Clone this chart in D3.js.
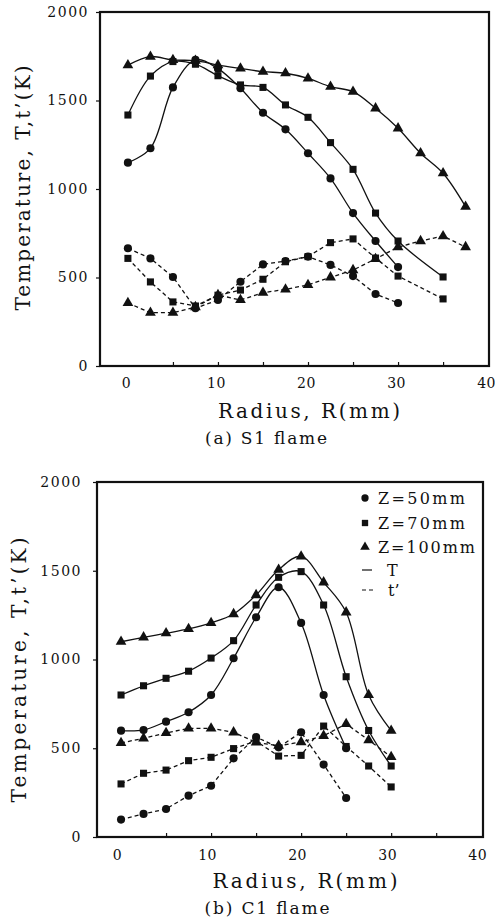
<!DOCTYPE html>
<html>
<head>
<meta charset="utf-8">
<script src="https://cdn.jsdelivr.net/npm/d3@7"></script>
<style>
  body { margin: 0; background: #fff; }
  svg { display: block; }
</style>
</head>
<body>
<script>
var width = 495;
var height = 920;

// tick values shared by both panels
var yTicks = [0, 500, 1000, 1500, 2000];
var xTicks = [0, 10, 20, 30, 40];
var xMinorTicks = [5, 10, 15, 20, 25, 30, 35];

var legendLabels = ["Z=50mm", "Z=70mm", "Z=100mm"];

// (a) S1 flame : [radius mm, temperature K]
var s1TempZ50 = [[0,1149],[2.5,1230],[5,1574],[7.5,1730],[10,1680],[12.5,1569],[15,1431],[17.5,1337],[20,1202],[22.5,1060],[25,864],[27.5,706],[30,559]];
var s1TempZ70 = [[0,1418],[2.5,1638],[5,1720],[7.5,1705],[10,1640],[12.5,1588],[15,1574],[17.5,1475],[20,1405],[22.5,1262],[25,1111],[27.5,864],[30,706],[35,503]];
var s1TempZ100 = [[0,1700],[2.5,1748],[5,1729],[7.5,1725],[10,1700],[12.5,1681],[15,1663],[17.5,1654],[20,1625],[22.5,1578],[25,1550],[27.5,1456],[30,1343],[32.5,1202],[35,1089],[37.5,900]];
var s1FlucZ50 = [[0,665],[2.5,608],[5,503],[7.5,326],[10,373],[12.5,476],[15,574],[17.5,593],[20,618],[22.5,571],[25,508],[27.5,407],[30,356]];
var s1FlucZ70 = [[0,608],[2.5,475],[5,362],[7.5,339],[10,400],[12.5,429],[15,490],[17.5,589],[20,618],[22.5,697],[25,718],[27.5,610],[30,508],[35,379]];
var s1FlucZ100 = [[0,356],[2.5,301],[5,301],[7.5,333],[10,401],[12.5,373],[15,414],[17.5,433],[20,458],[22.5,501],[25,542],[27.5,605],[30,672],[32.5,706],[35,734],[37.5,672]];

// (b) C1 flame
var c1TempZ50 = [[0,599],[2.5,603],[5,650],[7.5,703],[10,800],[12.5,1007],[15,1238],[17.5,1407],[20,1206],[22.5,800],[25,500]];
var c1TempZ70 = [[0,800],[2.5,852],[5,894],[7.5,934],[10,1008],[12.5,1106],[15,1307],[17.5,1463],[20,1495],[22.5,1307],[25,903],[27.5,600],[30,400]];
var c1TempZ100 = [[0,1100],[2.5,1125],[5,1148],[7.5,1172],[10,1206],[12.5,1256],[15,1363],[17.5,1506],[20,1581],[22.5,1435],[25,1266],[27.5,800],[30,599]];
var c1FlucZ50 = [[0,98],[2.5,130],[5,158],[7.5,233],[10,289],[12.5,443],[15,563],[17.5,505],[20,590],[22.5,408],[25,220]];
var c1FlucZ70 = [[0,299],[2.5,359],[5,377],[7.5,430],[10,449],[12.5,498],[15,540],[17.5,456],[20,460],[22.5,625],[25,510],[27.5,400],[30,282]];
var c1FlucZ100 = [[0,530],[2.5,556],[5,586],[7.5,612],[10,612],[12.5,590],[15,533],[17.5,514],[20,535],[22.5,570],[25,637],[27.5,546],[30,451]];

var font = "'DejaVu Serif', 'Liberation Serif', serif";
var ink = "#111";

var symbols = [d3.symbolCircle, d3.symbolSquare, d3.symbolTriangle];
var symbolSizes = [52, 50, 50];

var svg = d3.select("body").append("svg")
  .attr("width", width)
  .attr("height", height);

////////////////////////////////////////////////////////////////////////////////
//                                                                     Panels //
////////////////////////////////////////////////////////////////////////////////

drawPanel({
  left: 100, right: 489, top: 12, bottom: 366,
  xDomain: [-3.1, 40.1],
  yPad: 7, xPad: 12, xLabelDx: -2,
  yTitle: [23, 188, 245], xTitle: [309, 418, 182], caption: [266, 444, 122, "(a)  S1 flame"],
  temps: [s1TempZ50, s1TempZ70, s1TempZ100],
  flucs: [s1FlucZ50, s1FlucZ70, s1FlucZ100],
  legend: false
});

drawPanel({
  left: 97, right: 483, top: 482, bottom: 837,
  xDomain: [-2.67, 40.2],
  yPad: 11, xPad: 13, xLabelDx: -4,
  yTitle: [19, 670, 265], xTitle: [305, 888, 185], caption: [267, 914, 125, "(b)  C1 flame"],
  temps: [c1TempZ50, c1TempZ70, c1TempZ100],
  flucs: [c1FlucZ50, c1FlucZ70, c1FlucZ100],
  legend: true
});

function styleAxis(sel) {
  sel.select(".domain").remove();
  sel.attr("font-family", font).attr("font-size", 14);
  sel.selectAll("line").attr("stroke", ink).attr("stroke-width", 1.2);
  sel.selectAll("text").attr("fill", ink).attr("letter-spacing", 1.5);
}

function drawPanel(p) {
  var x = d3.scaleLinear().domain(p.xDomain).range([p.left, p.right]);
  var y = d3.scaleLinear().domain([0, 2000]).range([p.bottom, p.top]);
  var g = svg.append("g");

  // frame
  g.append("rect")
    .attr("x", p.left).attr("y", p.top)
    .attr("width", p.right - p.left).attr("height", p.bottom - p.top)
    .attr("fill", "none").attr("stroke", ink).attr("stroke-width", 2.2);

  // y axis, small outward ticks
  g.append("g")
    .attr("transform", "translate(" + p.left + ",0)")
    .call(d3.axisLeft(y).tickValues(yTicks).tickSize(4).tickPadding(p.yPad).tickFormat(d3.format("d")))
    .call(styleAxis);

  // x axis: inward minor ticks, then labels
  g.append("g")
    .attr("transform", "translate(0," + p.bottom + ")")
    .call(d3.axisBottom(x).tickValues(xMinorTicks).tickSize(-4).tickFormat(""))
    .call(styleAxis);
  g.append("g")
    .attr("transform", "translate(" + p.xLabelDx + "," + p.bottom + ")")
    .call(d3.axisBottom(x).tickValues(xTicks).tickSize(0).tickPadding(p.xPad))
    .call(styleAxis)
    .selectAll("text").attr("letter-spacing", 0.5);

  // titles
  g.append("text")
    .attr("transform", "translate(" + p.yTitle[0] + "," + p.yTitle[1] + ") rotate(-90)")
    .attr("text-anchor", "middle").attr("dy", "0.35em")
    .attr("textLength", p.yTitle[2]).attr("lengthAdjust", "spacing")
    .attr("font-family", font).attr("font-size", 20).attr("fill", ink)
    .text("Temperature,  T,t\u2019(K)");

  g.append("text")
    .attr("x", p.xTitle[0]).attr("y", p.xTitle[1])
    .attr("text-anchor", "middle")
    .attr("textLength", p.xTitle[2]).attr("lengthAdjust", "spacing")
    .attr("font-family", font).attr("font-size", 20).attr("fill", ink)
    .text("Radius,  R(mm)");

  g.append("text")
    .attr("x", p.caption[0]).attr("y", p.caption[1])
    .attr("text-anchor", "middle")
    .attr("textLength", p.caption[2]).attr("lengthAdjust", "spacing")
    .attr("font-family", font).attr("font-size", 17).attr("fill", ink)
    .text(p.caption[3]);

  var smooth = d3.line()
    .x(function(d) { return x(d[0]); })
    .y(function(d) { return y(d[1]); })
    .curve(d3.curveCatmullRom.alpha(0.5));
  var straight = d3.line()
    .x(function(d) { return x(d[0]); })
    .y(function(d) { return y(d[1]); });

  // mean temperature T : solid fitted curves
  p.temps.forEach(function(series) {
    g.append("path").attr("d", smooth(series))
      .attr("fill", "none").attr("stroke", ink).attr("stroke-width", 1.3);
  });
  // fluctuation t' : dashed segments
  p.flucs.forEach(function(series) {
    g.append("path").attr("d", straight(series))
      .attr("fill", "none").attr("stroke", ink).attr("stroke-width", 1.3)
      .attr("stroke-dasharray", "4,3");
  });

  // markers
  [p.temps, p.flucs].forEach(function(group) {
    group.forEach(function(series, i) {
      g.selectAll(null).data(series).enter().append("path")
        .attr("transform", function(d) { return "translate(" + x(d[0]) + "," + y(d[1]) + ")"; })
        .attr("d", d3.symbol().type(symbols[i]).size(symbolSizes[i]))
        .attr("fill", ink);
    });
  });

  if (p.legend) drawLegend(g);
}

////////////////////////////////////////////////////////////////////////////////
//                                                                     Legend //
////////////////////////////////////////////////////////////////////////////////

function drawLegend(g) {
  var lx = 365, tx = 378;
  var rows = [498, 523, 547, 570, 590];
  var widths = [87, 87, 97];

  legendLabels.forEach(function(label, i) {
    g.append("path")
      .attr("transform", "translate(" + lx + "," + rows[i] + ")")
      .attr("d", d3.symbol().type(symbols[i]).size(symbolSizes[i] * 0.8))
      .attr("fill", ink);
    g.append("text")
      .attr("x", tx).attr("y", rows[i]).attr("dy", "0.35em")
      .attr("textLength", widths[i]).attr("lengthAdjust", "spacing")
      .attr("font-family", font).attr("font-size", 16).attr("fill", ink)
      .text(label);
  });

  g.append("line")
    .attr("x1", lx - 3).attr("x2", lx + 7).attr("y1", rows[3]).attr("y2", rows[3])
    .attr("stroke", ink).attr("stroke-width", 1.2);
  g.append("text")
    .attr("x", tx + 9).attr("y", rows[3]).attr("dy", "0.35em")
    .attr("font-family", font).attr("font-size", 16).attr("fill", ink)
    .text("T");

  g.append("line")
    .attr("x1", lx - 3).attr("x2", lx + 8).attr("y1", rows[4]).attr("y2", rows[4])
    .attr("stroke", ink).attr("stroke-width", 1.2).attr("stroke-dasharray", "4,3");
  g.append("text")
    .attr("x", tx + 10).attr("y", rows[4]).attr("dy", "0.35em")
    .attr("font-family", font).attr("font-size", 16).attr("fill", ink)
    .text("t\u2019");
}
</script>
</body>
</html>
